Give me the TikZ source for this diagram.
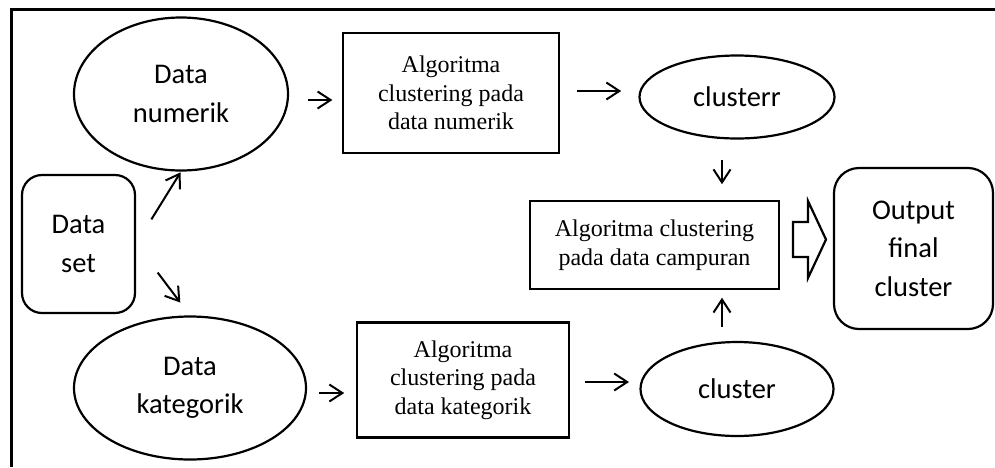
\documentclass[tikz,border=0pt]{standalone}
\usepackage{fontspec}
\setmainfont{Liberation Serif}
\newfontfamily\calibrifont{Carlito}
\usetikzlibrary{calc, positioning}
\usetikzlibrary{shapes.geometric}
\usetikzlibrary{arrows.meta}

\tikzset{
  oval/.style={draw, ellipse, line width=2.2pt, inner sep=0pt, align=center,
    font=\calibrifont\fontsize{28.5}{38.5}\selectfont},
  rbox/.style={draw, rectangle, line width=2.2pt, inner sep=0pt, align=center,
    font=\calibrifont\fontsize{28.5}{38.5}\selectfont},
  algbox/.style={draw, rectangle, line width=2.2pt, inner sep=0pt, align=center,
    font=\fontsize{24}{28.5}\selectfont},
  arr/.style={-{Straight Barb[length=13pt,width=17pt]}, line width=2pt},
}

\begin{document}
\begin{tikzpicture}[x=1pt, y=-1pt]
\useasboundingbox (0,0) rectangle (995,467);

% frame (cut off at right and bottom)
\draw[line width=3pt] (11.5,467) -- (11.5,9.5) -- (995,9.5);

\node[rbox, rounded corners=20pt, minimum width=113pt, minimum height=138pt] (dset) at (78.5,244) {Data\\set};
\node[oval, minimum width=214pt, minimum height=153pt] (num) at (181,94) {Data\\numerik};
\node[oval, minimum width=232pt, minimum height=143pt] (kat) at (190,388) {Data\\kategorik};

\node[algbox, minimum width=216pt, minimum height=120pt] (algnum) at (451,93) {Algoritma\\clustering pada\\data numerik};
\node[algbox, minimum width=212pt, minimum height=115pt] (algkat) at (463,380) {Algoritma\\clustering pada\\data kategorik};

\node[oval, minimum width=195pt, minimum height=83pt] (clnum) at (737,97) {clusterr};
\node[oval, minimum width=193pt, minimum height=94pt] (clkat) at (737,389) {cluster};

\node[algbox, minimum width=249pt, minimum height=88pt] (algmix) at (654.5,245) {Algoritma clustering\\pada data campuran};
\node[rbox, rounded corners=25pt, minimum width=159pt, minimum height=161pt] (out) at (913.5,248.5) {Output\\final\\cluster};

% small arrows
\draw[arr] ($(dset.east)!0.34!(num.south)$) -- ($(dset.east)!0.99!(num.south)$);
\draw[arr] ($(dset.east)!0.40!(kat.north)$) -- ($(dset.east)!0.82!(kat.north)$);
\draw[arr] ($(num.east)!0.35!(num.east -| algnum.west)+(0,6)$) -- ($(num.east)!0.82!(num.east -| algnum.west)+(0,6)$);
\draw[arr] ($(kat.east)!0.25!(kat.east -| algkat.west)+(0,5)$) -- ($(kat.east)!0.76!(kat.east -| algkat.west)+(0,5)$);
\draw[arr] ($(algnum.east)!0.22!(algnum.east -| clnum.west)+(0,-2)$) -- ($(algnum.east)!0.78!(algnum.east -| clnum.west)+(0,-2)$);
\draw[arr] ($(algkat.east)!0.22!(algkat.east -| clkat.west)+(0,2)$) -- ($(algkat.east)!0.85!(algkat.east -| clkat.west)+(0,2)$);
\draw[arr] ($(clnum.south)!0.34!(clnum.south |- algmix.north)+(-15,0)$) -- ($(clnum.south)!0.74!(clnum.south |- algmix.north)+(-15,0)$);
\draw[arr] ($(clkat.north)!0.28!(clkat.north |- algmix.south)+(-15,0)$) -- ($(clkat.north)!0.85!(clkat.north |- algmix.south)+(-15,0)$);

% block arrow to output
\draw[line width=2.2pt] (793,222) -- (808,222) -- (808,201) -- (826,239.5) -- (808,278) -- (808,257) -- (793,257) -- cycle;
\end{tikzpicture}
\end{document}
